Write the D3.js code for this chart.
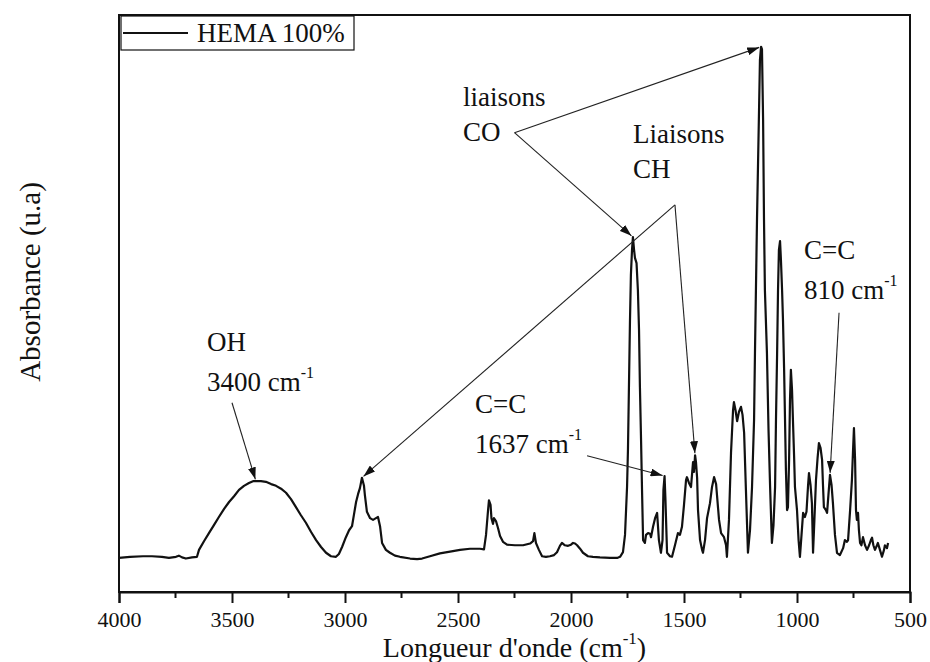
<!DOCTYPE html>
<html>
<head>
<meta charset="utf-8">
<script src="https://cdn.jsdelivr.net/npm/d3@7/dist/d3.min.js"></script>
<style>
  html, body { margin: 0; padding: 0; background: #fff; }
  svg { display: block; }
  text { font-family: "Liberation Serif", "Times New Roman", serif; fill: #111; }
</style>
</head>
<body>
<svg id="chart" width="930" height="662"></svg>
<script>
// FTIR spectrum of HEMA 100% — wavenumber (cm-1) and absorbance (arbitrary units)
const wavenumber = [
  4000, 3951, 3894, 3854, 3810, 3779, 3748, 3735, 3721, 3704, 3677, 3655,
  3646, 3624, 3602, 3580, 3558, 3535, 3513, 3491, 3469, 3447, 3425, 3407,
  3394, 3372, 3350, 3327, 3305, 3283, 3261, 3239, 3217, 3195, 3173, 3150,
  3128, 3106, 3084, 3062, 3040, 3027, 3013, 2996, 2982, 2969, 2960, 2951,
  2942, 2934, 2925, 2916, 2912, 2903, 2889, 2876, 2863, 2854, 2845, 2836,
  2819, 2801, 2779, 2757, 2712, 2681, 2659, 2624, 2580, 2535, 2491, 2447,
  2403, 2385, 2376, 2367, 2363, 2356, 2352, 2345, 2341, 2332, 2323, 2314,
  2301, 2283, 2248, 2212, 2181, 2168, 2162, 2155, 2142, 2128, 2111, 2093,
  2075, 2062, 2049, 2040, 2027, 2013, 2000, 1991, 1982, 1973, 1960, 1947,
  1925, 1903, 1872, 1827, 1796, 1783, 1770, 1761, 1752, 1748, 1739, 1735,
  1730, 1726, 1721, 1717, 1710, 1704, 1699, 1695, 1690, 1686, 1681, 1673,
  1668, 1659, 1650, 1646, 1637, 1628, 1619, 1611, 1602, 1595, 1591, 1586,
  1582, 1575, 1562, 1553, 1540, 1527, 1518, 1509, 1500, 1491, 1487, 1478,
  1469, 1460, 1456, 1451, 1447, 1442, 1438, 1429, 1420, 1416, 1407, 1398,
  1385, 1376, 1367, 1358, 1354, 1345, 1336, 1323, 1314, 1310, 1301, 1292,
  1283, 1279, 1272, 1265, 1257, 1248, 1241, 1234, 1226, 1217, 1208, 1199,
  1190, 1186, 1177, 1168, 1164, 1159, 1155, 1150, 1146, 1142, 1133, 1126,
  1119, 1111, 1104, 1097, 1093, 1088, 1084, 1080, 1075, 1071, 1066, 1062,
  1057, 1053, 1049, 1044, 1040, 1035, 1031, 1027, 1022, 1018, 1013, 1009,
  1000, 993, 987, 980, 973, 965, 958, 951, 947, 940, 934, 929,
  923, 916, 909, 903, 896, 889, 885, 881, 872, 867, 861, 854,
  847, 841, 832, 823, 810, 796, 788, 779, 774, 765, 757, 752,
  748, 743, 739, 735, 730, 726, 721, 715, 708, 699, 690, 681,
  673, 668, 662, 655, 646, 642, 633, 624, 615, 611, 602, 597
];
const absorbance = [
  .059, .061, .062, .062, .061, .059, .061, .063, .060, .058, .060, .061,
  .073, .088, .102, .116, .130, .144, .156, .166, .177, .184, .189, .192,
  .192, .192, .191, .187, .184, .179, .172, .161, .147, .133, .120, .104,
  .090, .078, .068, .062, .061, .066, .078, .095, .107, .114, .135, .156,
  .170, .180, .198, .184, .168, .139, .128, .125, .128, .130, .114, .085,
  .073, .068, .063, .061, .058, .057, .058, .062, .067, .070, .073, .075,
  .075, .074, .099, .142, .159, .151, .128, .118, .128, .123, .111, .097,
  .087, .082, .081, .081, .084, .088, .102, .085, .073, .062, .061, .062,
  .064, .069, .080, .085, .081, .080, .082, .085, .084, .081, .075, .068,
  .062, .061, .060, .059, .059, .061, .069, .099, .182, .246, .471, .549,
  .593, .615, .593, .579, .570, .523, .454, .355, .263, .182, .090, .085,
  .099, .102, .101, .095, .113, .128, .137, .090, .068, .090, .177, .201,
  .159, .068, .062, .061, .081, .102, .099, .113, .151, .194, .199, .189,
  .182, .225, .208, .237, .225, .198, .142, .090, .073, .068, .090, .128,
  .154, .182, .199, .187, .168, .125, .102, .095, .081, .061, .125, .241,
  .315, .329, .315, .296, .312, .321, .307, .276, .177, .068, .107, .182,
  .298, .414, .645, .835, .922, .945, .941, .818, .645, .523, .414, .281,
  .182, .085, .116, .182, .298, .414, .523, .593, .608, .575, .523, .471,
  .385, .298, .211, .142, .147, .229, .333, .385, .350, .298, .237, .182,
  .142, .090, .061, .099, .137, .130, .139, .185, .206, .185, .154, .068,
  .125, .194, .232, .258, .250, .229, .185, .147, .142, .137, .168, .203,
  .185, .154, .099, .068, .064, .076, .090, .087, .090, .142, .194, .246,
  .284, .229, .142, .125, .137, .107, .085, .081, .095, .081, .073, .081,
  .090, .094, .081, .073, .081, .085, .073, .061, .073, .081, .076, .085
];

// axis ticks
const majorTicks = [4000, 3500, 3000, 2500, 2000, 1500, 1000, 500];
const minorTicks = [3750, 3250, 2750, 2250, 1750, 1250, 750];

// band annotations: label text, anchor (wavenumber, absorbance) and targeted peaks
const bandLabels = [
  { lines: ["OH", "3400 cm"], sup: true, at: [3611, 0.418], from: [3500, 0.328], to: [3394] },
  { lines: ["C=C", "1637 cm"], sup: true, at: [2425, 0.310], from: [1929, 0.236], to: [1586] },
  { lines: ["liaisons", "CO"], sup: false, at: [2478, 0.842], from: [2250, 0.796], to: [1159, 1726] },
  { lines: ["Liaisons", "CH"], sup: false, at: [1726, 0.778], from: [1540, 0.671], to: [2925, 1451] },
  { lines: ["C=C", "810 cm"], sup: true, at: [969, 0.577], from: [814, 0.484], to: [854] }
];

const legendLabel = "HEMA 100%";

const svg = d3.select("#chart");
const margin = { left: 119, right: 20, top: 15, bottom: 70 };
const W = 930, H = 662;

const x = d3.scaleLinear().domain([4000, 500]).range([margin.left, W - margin.right]);
const y = d3.scaleLinear().domain([0, 1]).range([H - margin.bottom, margin.top]);

const spectrum = wavenumber.map((w, i) => ({ w, a: absorbance[i] }));

// arrowhead marker
svg.append("defs").append("marker")
  .attr("id", "head")
  .attr("viewBox", "0 0 12 8")
  .attr("refX", 12).attr("refY", 4)
  .attr("markerWidth", 12).attr("markerHeight", 8)
  .attr("markerUnits", "userSpaceOnUse")
  .attr("orient", "auto")
  .append("path").attr("d", "M0,0 L12,4 L0,8 Z").attr("fill", "#111");

// spectrum line
svg.append("path")
  .datum(spectrum)
  .attr("fill", "none")
  .attr("stroke", "#111")
  .attr("stroke-width", 2.2)
  .attr("stroke-linejoin", "round")
  .attr("d", d3.line().x(d => x(d.w)).y(d => y(d.a)));

// plot frame
svg.append("rect")
  .attr("x", x(4000)).attr("y", y(1))
  .attr("width", x(500) - x(4000)).attr("height", y(0) - y(1))
  .attr("fill", "none").attr("stroke", "#111").attr("stroke-width", 2);

// bottom axis with major and minor ticks
const axisG = svg.append("g").attr("transform", `translate(0,${y(0)})`);
axisG.call(d3.axisBottom(x).tickValues(majorTicks).tickSize(11).tickPadding(8).tickFormat(d3.format("d")));
axisG.call(g => g.select(".domain").attr("stroke-width", 2).attr("stroke", "#111"));
axisG.selectAll(".tick line").attr("stroke-width", 2).attr("stroke", "#111");
axisG.selectAll(".tick text")
  .attr("font-family", "Liberation Serif, Times New Roman, serif")
  .attr("font-size", 22).attr("fill", "#111");
axisG.append("g").selectAll("line").data(minorTicks).join("line")
  .attr("x1", d => x(d)).attr("x2", d => x(d))
  .attr("y1", 0).attr("y2", 6)
  .attr("stroke", "#111").attr("stroke-width", 2);

// axis titles
const xt = svg.append("text")
  .attr("x", (x(4000) + x(500)) / 2).attr("y", 657)
  .attr("text-anchor", "middle").attr("font-size", 28);
xt.append("tspan").text("Longueur d'onde (cm");
xt.append("tspan").attr("font-size", 17).attr("dy", -13).text("-1");
xt.append("tspan").attr("dy", 13).text(")");

svg.append("text")
  .attr("transform", "translate(40,282) rotate(-90)")
  .attr("text-anchor", "middle").attr("font-size", 29)
  .text("Absorbance (u.a)");

// legend
const lg = svg.append("g");
lg.append("rect").attr("x", x(4000) + 2).attr("y", y(1) + 1).attr("width", 233).attr("height", 34)
  .attr("fill", "#fff").attr("stroke", "#111").attr("stroke-width", 1.2);
lg.append("line").attr("x1", x(4000) + 4).attr("x2", x(4000) + 69)
  .attr("y1", y(1) + 18).attr("y2", y(1) + 18)
  .attr("stroke", "#111").attr("stroke-width", 2.2);
lg.append("text").attr("x", x(4000) + 78).attr("y", y(1) + 27)
  .attr("font-size", 27).text(legendLabel);

// band annotations
const peakAt = w => spectrum.find(d => d.w === w);
const ann = svg.append("g");
bandLabels.forEach(b => {
  const t = ann.append("text").attr("font-size", 27);
  const ax = x(b.at[0]), ay = y(b.at[1]);
  b.lines.forEach((ln, i) => {
    t.append("tspan").attr("x", ax).attr("y", ay + i * (b.sup ? 40 : 35)).text(ln);
    if (b.sup && i === 1) {
      t.append("tspan").attr("font-size", 16).attr("dy", -13).text("-1");
    }
  });
  b.to.forEach(w => {
    const p = peakAt(w);
    const px = x(p.w), py = y(p.a);
    const sx = x(b.from[0]), sy = y(b.from[1]);
    // stop the arrow just short of the peak tip
    const dx = px - sx, dy = py - sy, len = Math.hypot(dx, dy);
    const gap = 2;
    ann.append("line")
      .attr("x1", sx).attr("y1", sy)
      .attr("x2", px - dx / len * gap).attr("y2", py - dy / len * gap)
      .attr("stroke", "#222").attr("stroke-width", 1.1)
      .attr("marker-end", "url(#head)");
  });
});
</script>
</body>
</html>
